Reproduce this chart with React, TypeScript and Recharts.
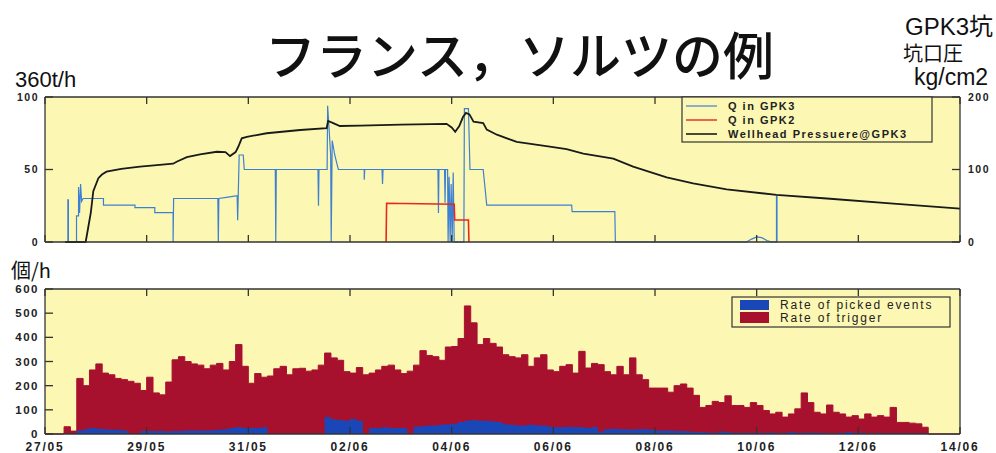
import { LineChart, Line, AreaChart, Area, XAxis, YAxis, CartesianGrid } from 'recharts';

// time axis: days since 27/05 00:00
const DAY_TICKS = [0, 2, 4, 6, 8, 10, 12, 14, 16, 18];
const DAY_LABELS = ['27/05', '29/05', '31/05', '02/06', '04/06', '06/06', '08/06', '10/06', '12/06', '14/06'];
const Q_TICKS = [0, 50, 100];
const P_TICKS = [0, 100, 200];
const RATE_TICKS = [0, 100, 200, 300, 400, 500, 600];

// [day, t/h (x360)]
const Q_GPK3: [number, number][] = [
    [0.39, 0], [0.45, 0], [0.45, 29], [0.46, 29], [0.46, 0], [0.62, 0], [0.62, 18], [0.66, 18], [0.66, 38],
    [0.68, 20], [0.7, 40], [0.72, 28], [0.75, 30], [1.15, 30], [1.15, 25.5], [1.77, 25.5], [1.77, 23.7],
    [2.16, 23.7], [2.16, 20.2], [2.52, 20.2], [2.52, 0], [2.53, 30], [3.4, 30], [3.41, 0], [3.42, 30],
    [3.6, 31], [3.78, 32], [3.79, 15], [3.82, 60], [3.9, 60], [3.92, 50], [4.53, 50], [4.54, 0], [4.55, 50],
    [5.37, 50], [5.38, 25], [5.39, 50], [5.55, 50], [5.56, 94], [5.62, 60], [5.63, 0], [5.65, 70], [5.7, 60],
    [5.77, 50], [6.28, 50], [6.28, 43], [6.29, 50], [6.63, 50], [6.64, 40], [6.65, 50], [7.73, 50], [7.74, 20],
    [7.75, 50], [7.86, 50], [7.87, 27], [7.88, 50], [7.92, 50], [7.93, 0], [7.95, 45], [7.97, 0], [7.99, 40],
    [8.01, 0], [8.03, 48], [8.05, 0], [8.24, 0], [8.25, 92], [8.33, 92], [8.36, 50], [8.62, 50], [8.69, 25.5],
    [10.36, 25.5], [10.37, 21], [11.21, 21], [11.22, 0], [13.8, 0], [13.9, 2], [14.0, 3.5], [14.1, 3],
    [14.2, 1], [14.3, 0], [14.39, 0], [14.39, 31.7], [14.4, 31.7], [14.4, 0],
];

const Q_GPK2: [number, number][] = [
    [6.71, 0], [6.72, 26.7], [8.05, 26], [8.06, 15.2], [8.33, 15.2], [8.34, 0],
];

// [day, kg/cm2]
const WELLHEAD_P: [number, number][] = [
    [0.4, 0], [0.8, 0], [0.9, 40], [0.95, 70], [1.05, 88], [1.12, 93], [1.21, 97], [1.5, 101], [1.87, 104],
    [2.2, 106], [2.52, 108], [2.6, 111], [2.79, 117], [3.05, 121], [3.38, 124.5], [3.55, 124], [3.64, 118.5],
    [3.75, 124], [3.8, 131], [3.87, 143], [3.97, 145], [4.36, 150], [5.02, 154.5], [5.54, 157], [5.57, 167],
    [5.67, 164], [5.8, 160], [6.2, 160.5], [7.0, 162], [7.9, 163], [8.0, 158], [8.07, 152], [8.15, 160],
    [8.22, 172], [8.28, 178], [8.35, 176], [8.43, 166], [8.62, 164], [8.69, 155], [8.89, 148], [9.28, 138],
    [9.93, 131.5], [10.26, 128], [10.59, 122], [11.18, 115], [11.57, 104], [12.23, 89], [12.75, 81],
    [13.41, 72.6], [14.39, 65], [15.38, 60], [16.69, 53], [18, 46],
];

// 3-hour bins, first bin starts at day 0.375
const BIN_START = 0.375;
const BIN_DAYS = 0.125;
const BIN_END = 17.375;

const TRIGGER_RATE = [
    30, 12, 230, 200, 265,
    290, 252, 245, 230, 225, 218, 210, 180,
    235, 170, 162, 215, 307, 320, 300, 290,
    285, 270, 285, 292, 265, 300, 370, 280,
    210, 250, 235, 240, 270, 280, 245, 270,
    272, 260, 265, 285, 335, 315, 305, 258,
    252, 275, 245, 252, 265, 280, 285, 265,
    250, 260, 285, 345, 325, 320, 305, 360,
    362, 395, 530, 460, 370, 395, 375, 360,
    328, 320, 315, 328, 280, 315, 328, 265,
    258, 280, 287, 252, 342, 273, 292, 287,
    258, 245, 280, 245, 315, 245, 225, 190,
    190, 190, 173, 200, 207, 190, 160, 110,
    118, 135, 130, 158, 118, 118, 110, 130,
    118, 97, 83, 90, 70, 83, 104, 170,
    130, 90, 83, 120, 90, 83, 70, 76,
    62, 83, 70, 76, 70, 110, 48, 48,
    45, 42, 28,
];

const PICKED_RATE = [
    0, 0, 15, 20, 25,
    22, 20, 18, 18, 15, 3, 0, 12,
    12, 12, 12, 10, 12, 12, 14, 14,
    15, 15, 16, 18, 20, 25, 28, 25,
    25, 25, 28, 0, 0, 0, 0, 0,
    0, 0, 0, 0, 70, 60, 58, 55,
    62, 55, 0, 25, 25, 28, 25, 25,
    25, 0, 30, 32, 35, 35, 38, 40,
    42, 50, 55, 58, 55, 55, 52, 50,
    40, 38, 35, 35, 38, 35, 35, 30,
    28, 28, 30, 28, 28, 25, 28, 10,
    20, 22, 20, 20, 18, 20, 20, 18,
    15, 14, 15, 12, 12, 10, 8, 8,
    6, 5, 10, 8, 5, 5, 5, 5,
    5, 5, 6, 4, 5, 8, 5, 5,
    6, 5, 5, 4, 4, 5, 8, 5,
    5, 4, 4, 4, 3, 3, 3, 3,
    2, 2, 2,
];

const BG = '#fcf8b4';
const FRAME = '#333';
const BLUE_LINE = '#3d7fd2';
const RED_LINE = '#e8281e';
const TRIG_RED = '#a8112e';
const PICK_BLUE = '#1a47b8';
const LATIN = "'Liberation Sans', Arial, sans-serif";
const CJK = "'Noto Sans CJK JP', sans-serif";

const toRows = (pts: [number, number][]) => pts.map(([t, v]) => ({ t, v }));

const rateData = [
    { t: 0, trig: 0, picked: 0 },
    ...TRIGGER_RATE.map((v, i) => ({ t: BIN_START + i * BIN_DAYS, trig: v, picked: PICKED_RATE[i] })),
    { t: BIN_END, trig: 0, picked: 0 },
    { t: 18, trig: 0, picked: 0 },
];

const smallTick = { fontSize: 10.5, fontWeight: 700, fill: '#222', fontFamily: LATIN, letterSpacing: 1.5 };
const rateTick = { fontSize: 11.5, fontWeight: 700, fill: '#222', fontFamily: LATIN, letterSpacing: 1.5 };
const dateTick = { fontSize: 12, fontWeight: 700, fill: '#222', fontFamily: LATIN, letterSpacing: 1.8 };
const blank = () => '';

function FlowChart() {
    return (
        <LineChart width={996} height={260} margin={{ top: 96, right: 0, bottom: 17, left: 0 }}>
            <CartesianGrid fill={BG} horizontal={false} vertical={false} />
            <XAxis dataKey="t" type="number" domain={[0, 18]} ticks={DAY_TICKS} allowDataOverflow
                height={1} tickSize={-7} tickFormatter={blank} stroke={FRAME} strokeWidth={1.3} />
            <XAxis xAxisId="top" orientation="top" dataKey="t" type="number" domain={[0, 18]} ticks={DAY_TICKS}
                allowDataOverflow height={1} tickSize={-7} tickFormatter={blank} stroke={FRAME} strokeWidth={1.3} />
            <YAxis domain={[0, 100]} ticks={Q_TICKS} width={45} tickSize={-8} tickMargin={14}
                tick={smallTick} stroke={FRAME} strokeWidth={1.3} />
            <YAxis yAxisId="p" orientation="right" domain={[0, 200]} ticks={P_TICKS} width={36} tickSize={-8}
                tickMargin={16} tick={smallTick} stroke={FRAME} strokeWidth={1.3} />
            <Line data={toRows(Q_GPK3)} dataKey="v" type="linear" stroke={BLUE_LINE} strokeWidth={1.2}
                dot={false} activeDot={false} isAnimationActive={false} />
            <Line data={toRows(Q_GPK2)} dataKey="v" type="linear" stroke={RED_LINE} strokeWidth={1.6}
                dot={false} activeDot={false} isAnimationActive={false} />
            <Line data={toRows(WELLHEAD_P)} yAxisId="p" dataKey="v" type="linear" stroke="#1a1a1a" strokeWidth={1.8}
                dot={false} activeDot={false} isAnimationActive={false} />
        </LineChart>
    );
}

function RateChart() {
    return (
        <AreaChart width={996} height={193} data={rateData} margin={{ top: 28, right: 0, bottom: 18, left: 0 }}>
            <CartesianGrid fill={BG} horizontal={false} vertical={false} />
            <XAxis dataKey="t" type="number" domain={[0, 18]} ticks={DAY_TICKS} allowDataOverflow height={1}
                tickSize={-7} tickMargin={15} interval={0}
                tickFormatter={(v: number) => DAY_LABELS[DAY_TICKS.indexOf(v)] ?? ''}
                tick={dateTick} stroke={FRAME} strokeWidth={1.3} />
            <XAxis xAxisId="top" orientation="top" dataKey="t" type="number" domain={[0, 18]} ticks={DAY_TICKS}
                allowDataOverflow height={1} tickSize={-7} tickFormatter={blank} stroke={FRAME} strokeWidth={1.3} />
            <YAxis domain={[0, 600]} ticks={RATE_TICKS} width={45} tickSize={-8} tickMargin={14}
                tick={rateTick} stroke={FRAME} strokeWidth={1.3} />
            <YAxis yAxisId="r" orientation="right" domain={[0, 600]} ticks={RATE_TICKS} width={36} tickSize={-8}
                tickFormatter={blank} stroke={FRAME} strokeWidth={1.3} />
            <Area dataKey="trig" type="stepAfter" fill={TRIG_RED} fillOpacity={1} stroke={TRIG_RED}
                strokeWidth={1} dot={false} activeDot={false} isAnimationActive={false} />
            <Area dataKey="picked" type="stepAfter" fill={PICK_BLUE} fillOpacity={1} stroke="none"
                dot={false} activeDot={false} isAnimationActive={false} />
        </AreaChart>
    );
}

export default function App() {
    return (
        <div style={{ position: 'absolute', left: 0, top: 0, width: 996, height: 453, background: '#fff', overflow: 'hidden' }}>
            <div style={{ position: 'absolute', left: 0, top: 0 }}>
                <FlowChart />
            </div>
            <div style={{ position: 'absolute', left: 0, top: 260 }}>
                <RateChart />
            </div>
            <svg width={996} height={453} style={{ position: 'absolute', left: 0, top: 0, pointerEvents: 'none' }}>
                <text x={265} y={75} fontSize={51} fontWeight={500} fontFamily={CJK} fill="#111">フランス，ソルツの例</text>
                <text x={15} y={87} fontSize={22} fontFamily={LATIN} fill="#111">360t/h</text>
                <text x={905} y={35} fontSize={24} fontFamily={`${LATIN}, ${CJK}`} fill="#111">GPK3坑</text>
                <text x={903} y={61} fontSize={20} fontFamily={CJK} fill="#111">坑口圧</text>
                <text x={914} y={85} fontSize={23} fontFamily={LATIN} fill="#111">kg/cm2</text>
                <text x={11} y={278} fontSize={20} fontFamily={CJK} fill="#111">個/h</text>

                {/* flow legend */}
                <rect x={682} y={97} width={250} height={45} fill={BG} stroke={FRAME} strokeWidth={1.2} />
                <line x1={686} x2={717} y1={106} y2={106} stroke={BLUE_LINE} strokeWidth={1.2} />
                <line x1={686} x2={717} y1={120} y2={120} stroke={RED_LINE} strokeWidth={1.4} />
                <line x1={686} x2={717} y1={134} y2={134} stroke="#1a1a1a" strokeWidth={1.6} />
                <g fontSize={11} fontWeight={700} fontFamily={LATIN} fill="#222" letterSpacing={1.5}>
                    <text x={728} y={110}>Q in GPK3</text>
                    <text x={728} y={124}>Q in GPK2</text>
                    <text x={728} y={138}>Wellhead Pressuere@GPK3</text>
                </g>

                {/* rate legend */}
                <rect x={732} y={297} width={218} height={30} fill={BG} stroke={FRAME} strokeWidth={1.2} />
                <rect x={740} y={300} width={29} height={10} fill={PICK_BLUE} />
                <rect x={740} y={312} width={29} height={11} fill={TRIG_RED} />
                <g fontSize={12} fontFamily={LATIN} fill="#222" letterSpacing={1.8}>
                    <text x={780} y={309}>Rate of picked events</text>
                    <text x={780} y={322}>Rate of trigger</text>
                </g>
            </svg>
        </div>
    );
}
